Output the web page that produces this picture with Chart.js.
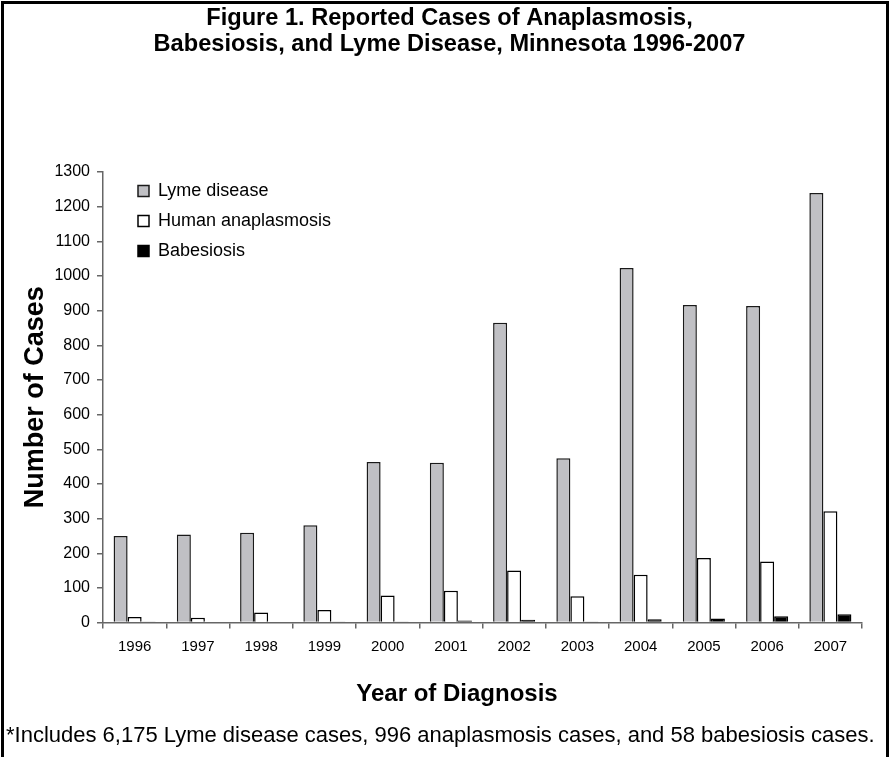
<!DOCTYPE html>
<html><head><meta charset="utf-8">
<script src="https://cdn.jsdelivr.net/npm/chart.js@4.4.1/dist/chart.umd.min.js"></script>
<style>
html,body{margin:0;padding:0;background:#fff;overflow:hidden;width:893px;height:757px}
#wrap{position:relative;width:893px;height:757px;overflow:hidden}
#frame{position:absolute;left:1px;top:1px;width:882px;height:800px;border:3px solid #000;border-bottom:none;pointer-events:none}
canvas{position:absolute;left:0;top:0}
</style></head><body>
<div id="wrap"><canvas id="c" width="893" height="757"></canvas><div id="frame"></div></div>
<script>
const years = ['1996','1997','1998','1999','2000','2001','2002','2003','2004','2005','2006','2007'];
const lymeDisease = [250, 254, 259, 281, 463, 461, 865, 474, 1023, 916, 913, 1239];
const humanAnaplasmosis = [16, 14, 29, 36, 78, 92, 150, 76, 138, 186, 176, 321];
const babesiosis = [3, 0, 0, 2, 2, 6, 8, 1, 10, 12, 18, 24];
const yMin = 0, yMax = 1300, yStep = 100;
const titleLines = ['Figure 1. Reported Cases of Anaplasmosis,', 'Babesiosis, and Lyme Disease, Minnesota 1996-2007'];
const yAxisTitle = 'Number of Cases';
const xAxisTitle = 'Year of Diagnosis';
const footnote = '*Includes 6,175 Lyme disease cases, 996 anaplasmosis cases, and 58 babesiosis cases.';

const FONT = '"Liberation Sans", Arial, Helvetica, sans-serif';
Chart.defaults.font.family = FONT;
Chart.defaults.color = '#000';

const legendPlacer = {
  id: 'legendPlacer',
  afterLayout(chart) {
    const l = chart.legend; if (!l) return;
    const a = chart.chartArea;
    l.left = a.left + 23; l.top = a.top - 2;
    l.right = l.left + 300; l.bottom = l.top + 200;
    l.width = 300; l.height = 200;
  }
};
const xTitlePlugin = {
  id: 'xTitlePlugin',
  afterDraw(chart) {
    const c = chart.ctx;
    c.save();
    c.font = 'bold 24px ' + FONT;
    c.fillStyle = '#000';
    c.textAlign = 'center';
    c.textBaseline = 'middle';
    c.fillText(xAxisTitle, 457, 694);
    c.restore();
  }
};

new Chart(document.getElementById('c'), {
  type: 'bar',
  data: {
    labels: years,
    datasets: [
      {label: 'Lyme disease', data: lymeDisease, backgroundColor: '#c0c0c4', borderColor: '#1a1a1a', borderWidth: 1.5},
      {label: 'Human anaplasmosis', data: humanAnaplasmosis, backgroundColor: '#ffffff', borderColor: '#000', borderWidth: 1.5},
      {label: 'Babesiosis', data: babesiosis, backgroundColor: '#000', borderColor: '#000', borderWidth: 1.5}
    ]
  },
  options: {
    responsive: false,
    animation: false,
    devicePixelRatio: 1,
    layout: {padding: {left: 6, right: 0, top: 0, bottom: 0}},
    datasets: {bar: {categoryPercentage: 0.665, barPercentage: 1}},
    scales: {
      x: {
        grid: {display: true, drawOnChartArea: false, drawTicks: true, tickLength: 6, color: '#666', lineWidth: 1.5, offset: true},
        border: {display: true, color: '#666', width: 1.5},
        ticks: {font: {size: 15}, padding: 9, maxRotation: 0, autoSkip: false},
        afterFit(s) { s.height = 100; }
      },
      y: {
        min: yMin, max: yMax,
        ticks: {stepSize: yStep, font: {size: 16}, padding: 7, callback: v => String(v)},
        grid: {drawOnChartArea: false, drawTicks: true, tickLength: 6, color: '#666', lineWidth: 1.5},
        border: {display: true, color: '#666', width: 1.5},
        title: {display: true, text: yAxisTitle, font: {size: 27, weight: 'bold'}, padding: {top: 13, bottom: 0}},
        afterFit(s) { s.width = 97; }
      },
      yRight: {
        position: 'right', display: true,
        ticks: {display: false}, grid: {display: false}, border: {display: false},
        afterFit(s) { s.width = 31; }
      }
    },
    plugins: {
      legend: {
        display: true, position: 'chartArea', align: 'start',
        labels: {boxWidth: 11, boxHeight: 11, padding: 12, font: {size: 18}, color: '#000'}
      },
      title: {
        display: true, text: titleLines, color: '#000',
        font: {size: 23.6, weight: 'bold', lineHeight: 1.1},
        padding: {top: 6, bottom: 114}
      },
      subtitle: {
        display: true, position: 'bottom', align: 'start', text: footnote, color: '#000',
        font: {size: 22, weight: 'normal'},
        padding: {top: 0, bottom: 8}
      },
      tooltip: {enabled: false}
    }
  },
  plugins: [legendPlacer, xTitlePlugin]
});
</script>
</body></html>
